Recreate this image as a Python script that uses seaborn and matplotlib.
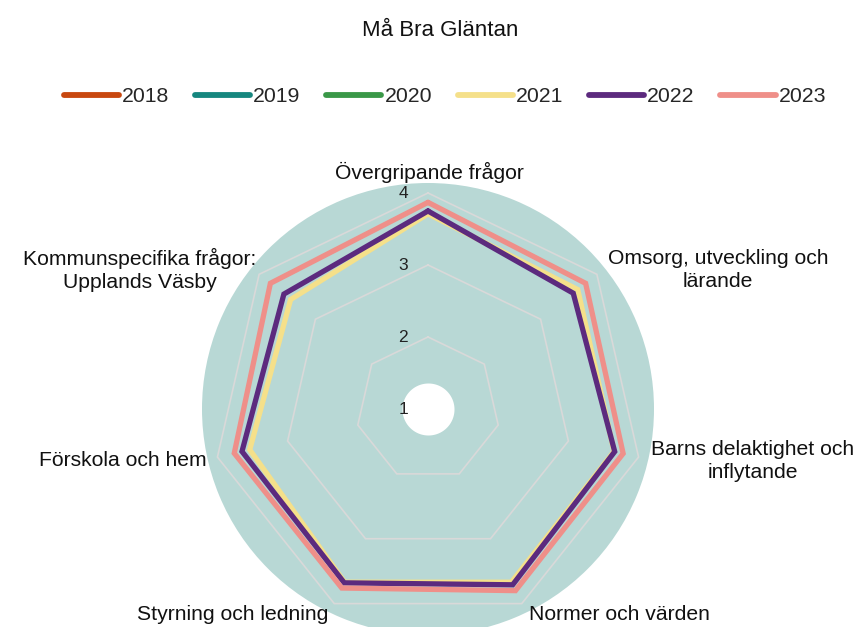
import numpy as np
import pandas as pd
import matplotlib
matplotlib.use("Agg")
import matplotlib.pyplot as plt
import matplotlib.transforms as mtransforms
from matplotlib.lines import Line2D
import seaborn as sns

categories = [
    "Övergripande frågor",
    "Omsorg, utveckling och\nlärande",
    "Barns delaktighet och\ninflytande",
    "Normer och värden",
    "Styrning och ledning",
    "Förskola och hem",
    "Kommunspecifika frågor:\nUpplands Väsby",
]
years = ["2018", "2019", "2020", "2021", "2022", "2023"]
values_2018 = [np.nan] * 7
values_2019 = [np.nan] * 7
values_2020 = [np.nan] * 7
values_2021 = [3.71, 3.66, 3.65, 3.67, 3.67, 3.54, 3.44]
values_2022 = [3.75, 3.58, 3.66, 3.71, 3.68, 3.65, 3.56]
values_2023 = [3.87, 3.80, 3.78, 3.80, 3.76, 3.76, 3.80]
radial_ticks = [1, 2, 3, 4]
colors = {"2018": "#c8480f", "2019": "#16877f", "2020": "#3a9848",
          "2021": "#f5e08a", "2022": "#5c2a7e", "2023": "#ef8f89"}

all_values = [values_2018, values_2019, values_2020, values_2021, values_2022, values_2023]

sns.set_theme(style="white")
plt.rcParams["font.family"] = ["Liberation Sans", "DejaVu Sans"]
plt.rcParams["lines.solid_joinstyle"] = "miter"

W, H = 858, 627
fig = plt.figure(figsize=(W / 100, H / 100), dpi=100)
cx, cy, R = 428, 409, 226
ax = fig.add_axes([(cx - R) / W, (H - cy - R) / H, 2 * R / W, 2 * R / H], projection="polar")
ax.set_theta_offset(np.pi / 2)
ax.set_theta_direction(-1)
rmin, rmax = 1.0, 1.0 + 226 / 72
ax.set_ylim(rmin, rmax)
ax.set_facecolor("#b8d8d5")
ax.spines["polar"].set_visible(False)
ax.grid(False)

n = len(categories)
angles = np.linspace(0, 2 * np.pi, n, endpoint=False)
closed = np.append(angles, 2 * np.pi)

# polygon gridlines
for r in radial_ticks[1:]:
    ax.plot(closed, [r] * (n + 1), color="#d9d9d9", lw=1.2, zorder=1)

# white hole
th = np.linspace(0, 2 * np.pi, 200)
ax.fill_between(th, rmin, rmin + 26 / 72, color="white", zorder=2, lw=0)

rows = []
for y, vals in zip(years, all_values):
    for i, t in enumerate(closed):
        rows.append({"theta": t, "value": vals[i % n], "year": y, "order": i})
df = pd.DataFrame(rows).dropna()
sns.lineplot(data=df, x="theta", y="value", hue="year", hue_order=years,
             palette=colors, sort=False, estimator=None, units="year",
             lw=3.8, legend=False, ax=ax, zorder=3)
ax.set_xlabel("")
ax.set_ylabel("")
ax.set_ylim(rmin, rmax)
ax.set_xticks([])
ax.set_yticks([])

# radial tick labels
off = mtransforms.offset_copy(ax.transData, fig=fig, x=-25, y=0, units="dots")
for r in radial_ticks:
    ax.text(0, r, str(r), transform=off, ha="center", va="center",
            fontsize=12.5, color="#222222", zorder=5)

# category labels
label_pos = [
    (429, 172, "center"),
    (718, 270, "center"),
    (753, 461, "center"),
    (619, 614, "center"),
    (233, 614, "center"),
    (207, 461, "right"),
    (140, 270, "center"),
]
for lab, (x, y, ha) in zip(categories, label_pos):
    fig.text(x / W, 1 - y / H, lab, ha=ha, va="center", fontsize=15.2,
             color="#111111", linespacing=1.3)

fig.text(440 / W, 1 - 31 / H, "Må Bra Gläntan", ha="center", va="center",
         fontsize=16, color="#111111")

handles = [Line2D([0], [0], color=colors[y], lw=4.2, solid_capstyle="round") for y in years]
fig.legend(handles, years, loc="center", bbox_to_anchor=(445 / W, 1 - 97 / H), ncol=6,
           frameon=False, fontsize=15.3, handlelength=2.6, handletextpad=0.15,
           columnspacing=1.2)

fig.savefig("out.png", dpi=100)
